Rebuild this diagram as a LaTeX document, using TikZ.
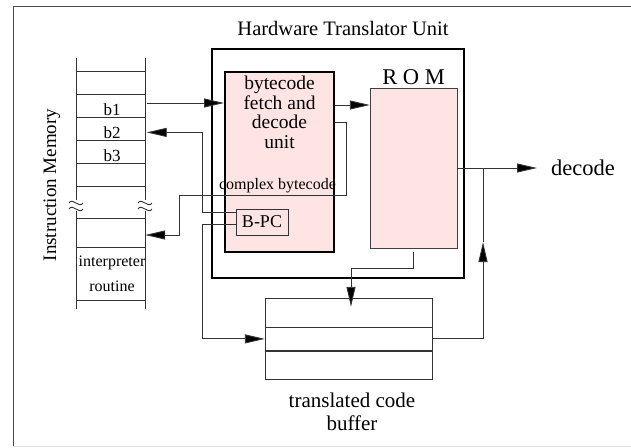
\documentclass[tikz,border=0pt]{standalone}
\usepackage{fontspec}
\setmainfont{Liberation Serif}
\usetikzlibrary{arrows.meta,positioning}
\definecolor{unitpink}{RGB}{255,228,228}
\tikzset{
  unit/.style  = {draw, line width=2pt, inner sep=0pt},
  fetchu/.style= {draw, line width=2pt, fill=unitpink, inner sep=0pt},
  rombox/.style= {draw=black!75, fill=unitpink, inner sep=0pt,
                  minimum width=87pt, minimum height=160pt},
  pcbox/.style = {draw=black!80, inner sep=0pt, minimum width=52pt,
                  minimum height=26pt, font=\fontsize{18}{20}\selectfont},
  bufrow/.style= {draw=black!80, inner sep=0pt, minimum width=167pt},
  cell/.style  = {inner sep=0pt, minimum width=69pt, minimum height=23pt,
                  text height=19pt, text depth=0pt, font=\fontsize{17}{19}\selectfont},
  big/.style   = {font=\fontsize{21}{23}\selectfont, align=center},
  mid/.style   = {font=\fontsize{19.5}{19.5}\selectfont, align=center},
  sml/.style   = {font=\fontsize{16}{25}\selectfont, align=center},
  ln/.style    = {draw=black!80, line width=0.9pt},
  ar/.style    = {ln, -{Triangle[length=20pt,width=9pt,fill=black]}}
}

\begin{document}
\begin{tikzpicture}[x=1pt,y=-1pt]
  \useasboundingbox (0,0) rectangle (631,447);
  \draw[black!70] (631,6) -- (13,6) -- (13,446);
  \draw[black!12] (13,446) -- (631,446);

  \node[unit, minimum width=252pt, minimum height=229pt] (hw) at (338,163.5) {};
  \node[big, font=\fontsize{20.5}{22}\selectfont] (hwt) at (343,28) {Hardware Translator Unit};
  \node[fetchu, minimum width=109pt, minimum height=180pt] (fetch) at (279.5,162) {};
  \node[mid, below=0pt of fetch.north, inner sep=5pt] (fetcht) {bytecode\\fetch and\\decode\\unit};
  \node[rombox] (rom) at (413.5,168) {};
  \node[big, font=\fontsize{22.5}{24}\selectfont, above=0pt of rom] (romt) {R O M};
  \node[pcbox] (bpc) at (262,222) {B-PC};

  % instruction memory
  \foreach \y in {71,94,117,140,163,186,218,247,300}
    \draw[ln] (76,\y) -- (145,\y);
  \foreach \x in {76,145} {
    \draw[ln] (\x,58) -- (\x,200) (\x,211) -- (\x,309);
    \foreach \y in {203,209}
      \draw[ln] (\x-7,\y) .. controls (\x-3,\y-6) and (\x+3,\y+6) .. (\x+7,\y);
  }
  \node[cell] (b1) at (112,105.5) {b1};
  \node[cell, below=0pt of b1] (b2) {b2};
  \node[cell, below=0pt of b2] (b3) {b3};
  \node[cell] (mfree) at (110.5,232.5) {};
  \node[sml, inner sep=0pt] (interp) at (112,273.5) {interpreter\\routine};
  \node[font=\fontsize{19}{21}\selectfont, rotate=90] (imem) at (52,185) {Instruction Memory};

  % translated code buffer
  \node[bufrow, minimum height=29pt] (buf1) at (348.5,312.5) {};
  \node[bufrow, minimum height=23pt, below=0pt of buf1] (buf2) {};
  \node[bufrow, minimum height=28pt, below=0pt of buf2] (buf3) {};
  \node[big] (buft) at (352,412) {translated code\\buffer};
  \node[big, font=\fontsize{22.5}{24}\selectfont, anchor=west, inner sep=0pt] (dec) at (551,168) {decode};

  \coordinate (cbr) at (346,195);
  \coordinate (cbl) at (179,195);
  \coordinate (pcx) at (202,222);
  \coordinate (jn)  at (483,242);

  \draw[ar] ([yshift=2.5pt]b1.east) -- ([yshift=2.5pt]b1.east -| fetch.west);
  \draw[ar] ([yshift=57pt]fetch.east) -- ([yshift=57pt]fetch.east -| rom.west);
  \draw[ar] ([yshift=40pt]fetch.east) -| (cbr) -- (cbl) |- ([yshift=-2.5pt]mfree.east);
  \node[sml, anchor=base] (cbt) at (277.5,189) {complex bytecode};
  \draw[ar] ([yshift=10pt]bpc.west) -| ([yshift=-3.5pt]b2.east -| pcx) -- ([yshift=-3.5pt]b2.east);
  \draw[ar] ([yshift=-2pt]bpc.west) -| (pcx |- buf2.west) -- (buf2.west);
  \draw[ar] ([yshift=-4pt]rom.south) -- ++(0,16) -| ([xshift=2.5pt,yshift=-9pt]buf1.north);
  \draw[ar, shorten >=14pt] (rom.east) -- (dec.west);
  \draw[ar] (buf2.east) -| (jn);
  \draw[ln] (jn) -- (jn |- rom.east);
\end{tikzpicture}
\end{document}
